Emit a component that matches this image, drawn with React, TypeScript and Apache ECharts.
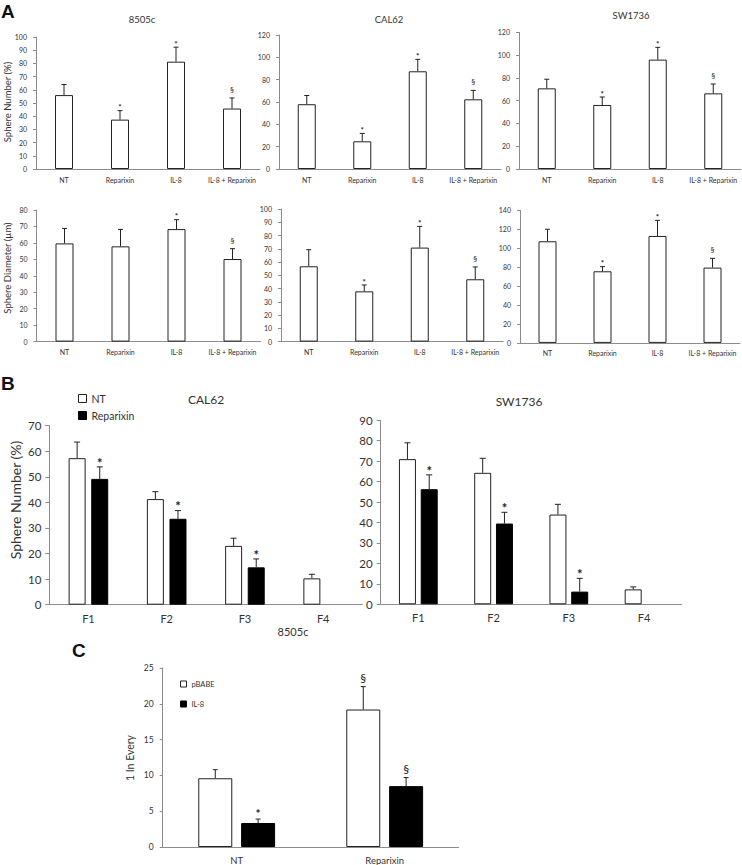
import React, { useEffect, useRef } from "react";
import * as echarts from "echarts";

// ---------- categories ----------
const treatments = ["NT", "Reparixin", "IL-8", "IL-8 + Reparixin"];
const fractions = ["F1", "F2", "F3", "F4"];
const groupsC = ["NT", "Reparixin"];

// ---------- Panel A: sphere number (%) ----------
const numA_8505c = [56, 37.4, 81.3, 45.8];
const numA_8505c_err = [8, 6.8, 11, 8];
const numA_8505c_sig = ["", "*", "*", "§"];

const numA_CAL62 = [58, 24.8, 87.5, 62.4];
const numA_CAL62_err = [7.8, 7.1, 10.7, 8];
const numA_CAL62_sig = ["", "*", "*", "§"];

const numA_SW1736 = [70.8, 56.2, 96, 66.4];
const numA_SW1736_err = [8, 7, 10.8, 8.2];
const numA_SW1736_sig = ["", "*", "*", "§"];

// ---------- Panel A: sphere diameter (µm) ----------
const diaA_8505c = [59.7, 57.9, 68.4, 50.2];
const diaA_8505c_err = [9.1, 10.3, 5.7, 6.3];
const diaA_8505c_sig = ["", "", "*", "§"];

const diaA_CAL62 = [56.8, 37.9, 70.9, 47];
const diaA_CAL62_err = [12.5, 4.8, 16, 9.3];
const diaA_CAL62_sig = ["", "*", "*", "§"];

const diaA_SW1736 = [107.3, 75.6, 112.9, 79.5];
const diaA_SW1736_err = [12.7, 4.9, 16.5, 9.8];
const diaA_SW1736_sig = ["", "*", "*", "§"];

// ---------- Panel B: sphere number (%) per generation ----------
const B_CAL62_NT = [57.3, 41.3, 23, 10.3];
const B_CAL62_NT_err = [6.3, 2.9, 3, 1.6];
const B_CAL62_Rep = [49.2, 33.6, 14.6, null];
const B_CAL62_Rep_err = [4.7, 3.2, 3.3, null];
const B_CAL62_Rep_sig = ["*", "*", "*", ""];

const B_SW1736_NT = [71, 64.3, 43.9, 7.3];
const B_SW1736_NT_err = [8, 7.1, 5, 1.2];
const B_SW1736_Rep = [56.3, 39.5, 6.2, null];
const B_SW1736_Rep_err = [7, 5.5, 6.5, null];
const B_SW1736_Rep_sig = ["*", "*", "*", ""];

// ---------- Panel C: 1 in every ----------
const C_pBABE = [9.6, 19.2];
const C_pBABE_err = [1.2, 3.2];
const C_pBABE_sig = ["", "§"];
const C_IL8 = [3.35, 8.5];
const C_IL8_err = [0.55, 1.2];
const C_IL8_sig = ["*", "§"];

const noSig = ["", "", "", ""];

const FONT = 'Lato, "Open Sans", sans-serif';
const AXIS = "#8c8c8c";
const TXT = "#333";

type SDef = {
  name: string;
  means: (number | null)[];
  errs: (number | null)[];
  sig: string[];
  dark: boolean;
};
type Sub = {
  grid: { left: number; top: number; width: number; height: number };
  cats: string[];
  max: number;
  interval: number;
  series: SDef[];
  barWidth: number;
  gapFrac: number;
  capW: number;
  tickFont: number;
  catFont: number;
  markFont: number;
  starGap: number;
  sectGap: number;
  labelMargin: number;
  catMargin: number;
  tickLen: number;
};

function buildOption() {
  const aCommon = {
    barWidth: 18,
    gapFrac: 0,
    capW: 5,
    tickFont: 7,
    catFont: 7,
    markFont: 8,
    starGap: 5,
    sectGap: 8,
    labelMargin: 9,
    catMargin: 7,
    tickLen: 3,
  };
  const one = (name: string, means: any[], errs: any[], sig: string[]): SDef[] => [
    { name, means, errs, sig, dark: false },
  ];
  const subs: Sub[] = [
    { ...aCommon, grid: { left: 36, top: 37, width: 224, height: 132 }, cats: treatments, max: 100, interval: 10, series: one("a1", numA_8505c, numA_8505c_err, numA_8505c_sig) },
    { ...aCommon, grid: { left: 279, top: 35, width: 222, height: 134 }, cats: treatments, max: 120, interval: 20, series: one("a2", numA_CAL62, numA_CAL62_err, numA_CAL62_sig) },
    { ...aCommon, grid: { left: 519, top: 32.3, width: 222, height: 136.7 }, cats: treatments, max: 120, interval: 20, series: one("a3", numA_SW1736, numA_SW1736_err, numA_SW1736_sig) },
    { ...aCommon, grid: { left: 36.5, top: 210, width: 224, height: 131.6 }, cats: treatments, max: 80, interval: 10, series: one("a4", diaA_8505c, diaA_8505c_err, diaA_8505c_sig) },
    { ...aCommon, grid: { left: 281, top: 209, width: 222, height: 132.6 }, cats: treatments, max: 100, interval: 10, series: one("a5", diaA_CAL62, diaA_CAL62_err, diaA_CAL62_sig) },
    { ...aCommon, grid: { left: 520, top: 210.3, width: 220, height: 132.6 }, cats: treatments, max: 140, interval: 20, series: one("a6", diaA_SW1736, diaA_SW1736_err, diaA_SW1736_sig) },
    {
      grid: { left: 49.3, top: 425.7, width: 313, height: 179 }, cats: fractions, max: 70, interval: 10,
      series: [
        { name: "NT", means: B_CAL62_NT, errs: B_CAL62_NT_err, sig: noSig, dark: false },
        { name: "Reparixin", means: B_CAL62_Rep, errs: B_CAL62_Rep_err, sig: B_CAL62_Rep_sig, dark: true },
      ],
      barWidth: 17, gapFrac: 0.33, capW: 6, tickFont: 11.5, catFont: 11, markFont: 13, starGap: 7, sectGap: 9, labelMargin: 8, catMargin: 8, tickLen: 4,
    },
    {
      grid: { left: 380.7, top: 420.3, width: 301, height: 184 }, cats: fractions, max: 90, interval: 10,
      series: [
        { name: "NT", means: B_SW1736_NT, errs: B_SW1736_NT_err, sig: noSig, dark: false },
        { name: "Reparixin", means: B_SW1736_Rep, errs: B_SW1736_Rep_err, sig: B_SW1736_Rep_sig, dark: true },
      ],
      barWidth: 17, gapFrac: 0.28, capW: 6, tickFont: 11.5, catFont: 11, markFont: 13, starGap: 7, sectGap: 9, labelMargin: 8, catMargin: 8, tickLen: 4,
    },
    {
      grid: { left: 162.7, top: 668, width: 296, height: 180 }, cats: groupsC, max: 25, interval: 5,
      series: [
        { name: "pBABE", means: C_pBABE, errs: C_pBABE_err, sig: C_pBABE_sig, dark: false },
        { name: "IL-8", means: C_IL8, errs: C_IL8_err, sig: C_IL8_sig, dark: true },
      ],
      barWidth: 34, gapFrac: 0.26, capW: 5, tickFont: 8.5, catFont: 9.5, markFont: 12, starGap: 8, sectGap: 9, labelMargin: 9, catMargin: 8, tickLen: 3,
    },
  ];

  const grid: any[] = [];
  const xAxis: any[] = [];
  const yAxis: any[] = [];
  const series: any[] = [];

  subs.forEach((s, gi) => {
    grid.push({ ...s.grid, containLabel: false });
    xAxis.push({
      type: "category",
      gridIndex: gi,
      data: s.cats,
      axisTick: { show: false },
      axisLine: { show: true, lineStyle: { color: AXIS, width: 1 } },
      axisLabel: { interval: 0, fontSize: s.catFont, color: TXT, fontFamily: FONT, margin: s.catMargin },
    });
    yAxis.push({
      type: "value",
      gridIndex: gi,
      min: 0,
      max: s.max,
      interval: s.interval,
      splitLine: { show: false },
      axisLine: { show: true, lineStyle: { color: AXIS, width: 1 } },
      axisTick: { show: true, length: s.tickLen, lineStyle: { color: AXIS } },
      axisLabel: { fontSize: s.tickFont, color: TXT, fontFamily: FONT, margin: s.labelMargin },
    });
    const n = s.series.length;
    s.series.forEach((d, k) => {
      series.push({
        type: "bar",
        name: d.name,
        xAxisIndex: gi,
        yAxisIndex: gi,
        data: d.means.map((v) => (v == null ? "-" : v)),
        barWidth: s.barWidth,
        barGap: Math.round(s.gapFrac * 100) + "%",
        itemStyle: d.dark
          ? { color: "#000", borderColor: "#000", borderWidth: 1 }
          : { color: "#fff", borderColor: "#222", borderWidth: 1 },
        z: 2,
      });
    });
    s.series.forEach((d, k) => {
      const step = s.barWidth * (1 + s.gapFrac);
      const offset = n === 1 ? 0 : (k - (n - 1) / 2) * step;
      series.push({
        type: "custom",
        xAxisIndex: gi,
        yAxisIndex: gi,
        coordinateSystem: "cartesian2d",
        data: d.means.map((v, i) => [i, v == null ? 0 : v]),
        encode: { x: 0, y: 1 },
        z: 3,
        clip: false,
        silent: true,
        renderItem: (params: any, api: any) => {
          const i = params.dataIndex;
          const m = d.means[i];
          const e = d.errs[i];
          if (m == null || e == null) return null;
          const base = api.coord([i, m]);
          const top = api.coord([i, m + e]);
          const x = base[0] + offset;
          const children: any[] = [
            { type: "line", shape: { x1: x, y1: base[1], x2: x, y2: top[1] }, style: { stroke: "#222", lineWidth: 1 } },
            { type: "line", shape: { x1: x - s.capW / 2, y1: top[1], x2: x + s.capW / 2, y2: top[1] }, style: { stroke: "#222", lineWidth: 1 } },
          ];
          const mk = d.sig[i];
          if (mk) {
            const isStar = mk === "*";
            const y = isStar ? top[1] - s.starGap + s.markFont * 0.22 : top[1] - s.sectGap;
            children.push({
              type: "text",
              x,
              y,
              style: {
                text: mk,
                fill: "#222",
                fontSize: s.markFont,
                fontFamily: FONT,
                fontWeight: isStar ? "bold" : "normal",
                align: "center",
                verticalAlign: "middle",
              },
            });
          }
          return { type: "group", children };
        },
      });
    });
  });

  const t = (text: string, x: number, y: number, size: number, extra: any = {}) => ({
    type: "text",
    x,
    y,
    ...extra,
    style: { text, fill: TXT, fontSize: size, fontFamily: FONT, align: "center", verticalAlign: "middle", ...(extra.style || {}) },
  });
  const letter = (text: string, x: number, y: number) => ({
    type: "text",
    x,
    y,
    style: { text, fill: "#111", fontSize: 19, fontWeight: "bold", fontFamily: '"Liberation Sans", Arial, sans-serif', align: "left", verticalAlign: "middle" },
  });

  const graphic: any[] = [
    letter("A", 1, 11),
    letter("B", 1, 383),
    letter("C", 72, 650),
    t("8505c", 142, 19, 9.5),
    t("CAL62", 389, 19, 9.5),
    t("SW1736", 631, 15, 9.5),
    t("CAL62", 206, 399, 12),
    t("SW1736", 519, 401, 12),
    t("8505c", 293, 631, 11),
    t("Sphere Number (%)", 7, 102, 9.5, { rotation: Math.PI / 2 }),
    t("Sphere Diameter (µm)", 7, 268, 9.5, { rotation: Math.PI / 2 }),
    t("Sphere Number (%)", 15, 500, 14, { rotation: Math.PI / 2 }),
    t("1 In Every", 130, 758, 10.5, { rotation: Math.PI / 2 }),
  ];

  return {
    animation: false,
    backgroundColor: "#fff",
    textStyle: { fontFamily: FONT },
    grid,
    xAxis,
    yAxis,
    series,
    graphic,
    legend: [
      {
        data: [
          { name: "NT", itemStyle: { color: "#fff", borderColor: "#222", borderWidth: 1 } },
          { name: "Reparixin", itemStyle: { color: "#000", borderColor: "#000", borderWidth: 1 } },
        ],
        orient: "vertical",
        left: 73,
        top: 388,
        itemWidth: 8,
        itemHeight: 8,
        itemGap: 6,
        icon: "rect",
        selectedMode: false,
        textStyle: { fontSize: 10.5, color: TXT, fontFamily: FONT },
      },
      {
        data: [
          { name: "pBABE", itemStyle: { color: "#fff", borderColor: "#222", borderWidth: 1 } },
          { name: "IL-8", itemStyle: { color: "#000", borderColor: "#000", borderWidth: 1 } },
        ],
        orient: "vertical",
        left: 175,
        top: 675,
        itemWidth: 6,
        itemHeight: 6,
        itemGap: 12,
        icon: "rect",
        selectedMode: false,
        textStyle: { fontSize: 7.5, color: TXT, fontFamily: FONT },
      },
    ],
  };
}

export default function App() {
  const ref = useRef<HTMLDivElement>(null);
  useEffect(() => {
    if (!ref.current) return;
    const chart = echarts.init(ref.current, null, { renderer: "svg" });
    chart.setOption(buildOption() as any);
    return () => chart.dispose();
  }, []);
  return (
    <div
      ref={ref}
      style={{ position: "fixed", left: 0, top: 0, width: 742, height: 865, background: "#fff" }}
    />
  );
}
